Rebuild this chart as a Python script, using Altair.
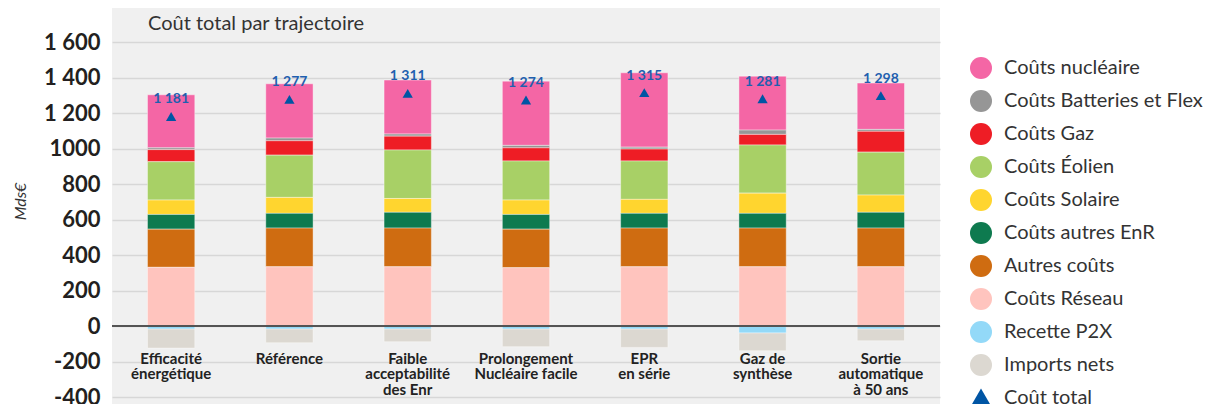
import altair as alt
import pandas as pd

# ---- data ----
trajectoires = [
    "Efficacité|énergétique",
    "Référence",
    "Faible|acceptabilité|des Enr",
    "Prolongement|Nucléaire facile",
    "EPR|en série",
    "Gaz de|synthèse",
    "Sortie|automatique|à 50 ans",
]

series = [
    "Coûts nucléaire",
    "Coûts Batteries et Flex",
    "Coûts Gaz",
    "Coûts Éolien",
    "Coûts Solaire",
    "Coûts autres EnR",
    "Autres coûts",
    "Coûts Réseau",
    "Recette P2X",
    "Imports nets",
]

cout_nucleaire = [299, 306, 304, 362, 419, 304, 261]
cout_batteries = [10, 15, 12, 14, 11, 24, 11]
cout_gaz = [68, 81, 78, 74, 67, 60, 117]
cout_eolien = [216, 238, 273, 220, 216, 271, 242]
cout_solaire = [81, 90, 78, 81, 79, 114, 97]
cout_autres_enr = [83, 83, 89, 83, 83, 83, 89]
autres_couts = [215, 218, 218, 217, 218, 218, 218]
cout_reseau = [331, 334, 334, 329, 334, 334, 334]
recette_p2x = [-17, -17, -17, -17, -17, -39, -17]
imports_nets = [-107, -77, -71, -99, -103, -100, -66]

cout_total = [1181, 1277, 1311, 1274, 1315, 1281, 1298]

y_ticks = [-400, -200, 0, 200, 400, 600, 800, 1000, 1200, 1400, 1600]

# stacking order (0 = closest to zero)
stack_order = {
    "Coûts Réseau": 0,
    "Autres coûts": 1,
    "Coûts autres EnR": 2,
    "Coûts Solaire": 3,
    "Coûts Éolien": 4,
    "Coûts Gaz": 5,
    "Coûts Batteries et Flex": 6,
    "Coûts nucléaire": 7,
    "Recette P2X": 8,
    "Imports nets": 9,
}

colors = [
    "#F466A5",  # nucléaire
    "#969696",  # batteries
    "#EE1D25",  # gaz
    "#A8D066",  # éolien
    "#FFD52F",  # solaire
    "#0E7A4F",  # autres EnR
    "#CF6C11",  # autres coûts
    "#FFC4BE",  # réseau
    "#93D9F8",  # P2X
    "#DCD8D1",  # imports
    "#0055A4",  # coût total
]

values_by_series = [
    cout_nucleaire, cout_batteries, cout_gaz, cout_eolien, cout_solaire,
    cout_autres_enr, autres_couts, cout_reseau, recette_p2x, imports_nets,
]

rows = []
for name, vals in zip(series, values_by_series):
    for traj, v in zip(trajectoires, vals):
        rows.append({"trajectoire": traj, "serie": name, "valeur": v,
                     "ordre": stack_order[name]})
bars_df = pd.DataFrame(rows)

total_df = pd.DataFrame({
    "trajectoire": trajectoires,
    "total": cout_total,
    "serie": ["Coût total"] * len(trajectoires),
    "label": [f"{v:,}".replace(",", " ") for v in cout_total],
})

legend_domain = series + ["Coût total"]
shape_range = ["circle"] * len(series) + ["triangle-up"]

FONT = "Lato"

color_scale = alt.Scale(domain=legend_domain, range=colors)
shape_scale = alt.Scale(domain=legend_domain, range=shape_range)

legend = alt.Legend(
    title=None,
    orient="none",
    legendX=858,
    legendY=49,
    symbolSize=484,
    symbolStrokeWidth=0,
    labelFont=FONT,
    labelFontSize=20,
    labelColor="#333333",
    labelOffset=12,
    labelLimit=300,
    rowPadding=11,
    padding=0,
)

x_axis = alt.Axis(
    title=None,
    orient="bottom",
    offset=-53,
    domain=False,
    ticks=False,
    grid=False,
    labelAngle=0,
    labelPadding=0,
    labelBaseline="top",
    labelFont=FONT,
    labelFontSize=15,
    labelFontWeight="bold",
    labelColor="#222222",
    labelLineHeight=15.5,
    labelExpr="split(datum.label, '|')",
)

y_axis = alt.Axis(
    title="Mds€",
    values=y_ticks,
    tickCount=11,
    labelExpr="datum.value > 1000 ? floor(datum.value / 1000) + ' ' + substring(toString(datum.value), 1) : toString(datum.value)",
    labelOverlap=False,
    domain=False,
    ticks=False,
    grid=True,
    gridColor="#d7d7d7",
    gridWidth=1.5,
    labelFont=FONT,
    labelFontSize=22,
    labelFontWeight="bold",
    labelColor="#231F20",
    labelPadding=12,
    titleFont=FONT,
    titleFontSize=16,
    titleFontStyle="italic",
    titleFontWeight="normal",
    titleColor="#333333",
    titleAngle=-90,
    titleX=-92,
    titleY=193,
    titleAlign="center",
    titleBaseline="middle",
)

x_scale = alt.Scale(paddingInner=0.6, paddingOuter=0.3)
y_scale = alt.Scale(domain=[-439, 1792], nice=False, zero=False)

bars = alt.Chart(bars_df).mark_bar(
    stroke="#ffffff", strokeWidth=0.8, strokeOpacity=0.5
).encode(
    x=alt.X("trajectoire:N", sort=trajectoires, scale=x_scale, axis=x_axis),
    y=alt.Y("valeur:Q", stack="zero", scale=y_scale, axis=y_axis),
    color=alt.Color("serie:N", scale=color_scale, legend=legend),
    order=alt.Order("ordre:Q", sort="ascending"),
)

zero_line = alt.Chart(total_df).mark_rule(color="#555555", strokeWidth=1.5).encode(
    y=alt.datum(0, scale=y_scale, axis=y_axis)
)

points = alt.Chart(total_df).mark_point(filled=True, size=105, opacity=1).encode(
    x=alt.X("trajectoire:N", sort=trajectoires, scale=x_scale, axis=x_axis),
    y=alt.Y("total:Q", scale=y_scale, axis=y_axis),
    color=alt.Color("serie:N", scale=color_scale, legend=legend),
    shape=alt.Shape("serie:N", scale=shape_scale, legend=legend),
)

labels = alt.Chart(total_df).mark_text(
    dy=-17, font=FONT, fontSize=14, fontWeight="bold", color="#1F5FAF"
).encode(
    x=alt.X("trajectoire:N", sort=trajectoires, scale=x_scale, axis=x_axis),
    y=alt.Y("total:Q", scale=y_scale, axis=y_axis),
    text="label:N",
)

chart = alt.layer(bars, zero_line, points, labels).properties(
    width=828,
    height=396,
    background="#ffffff",
    title=alt.TitleParams(
        "Coût total par trajectoire",
        anchor="start",
        frame="group",
        orient="top",
        offset=0,
        dx=36,
        dy=42,
        baseline="alphabetic",
        font=FONT,
        fontSize=20,
        fontWeight="normal",
        color="#333333",
    ),
    autosize=alt.AutoSizeParams(type="none"),
    padding={"left": 104, "top": 0, "right": 275, "bottom": 0},
).configure_view(
    fill="#F0F0F0", stroke=None
).configure_axis(
    labelOverlap=False
)

chart.save("out.html", embed_options={"renderer": "svg", "actions": False})
